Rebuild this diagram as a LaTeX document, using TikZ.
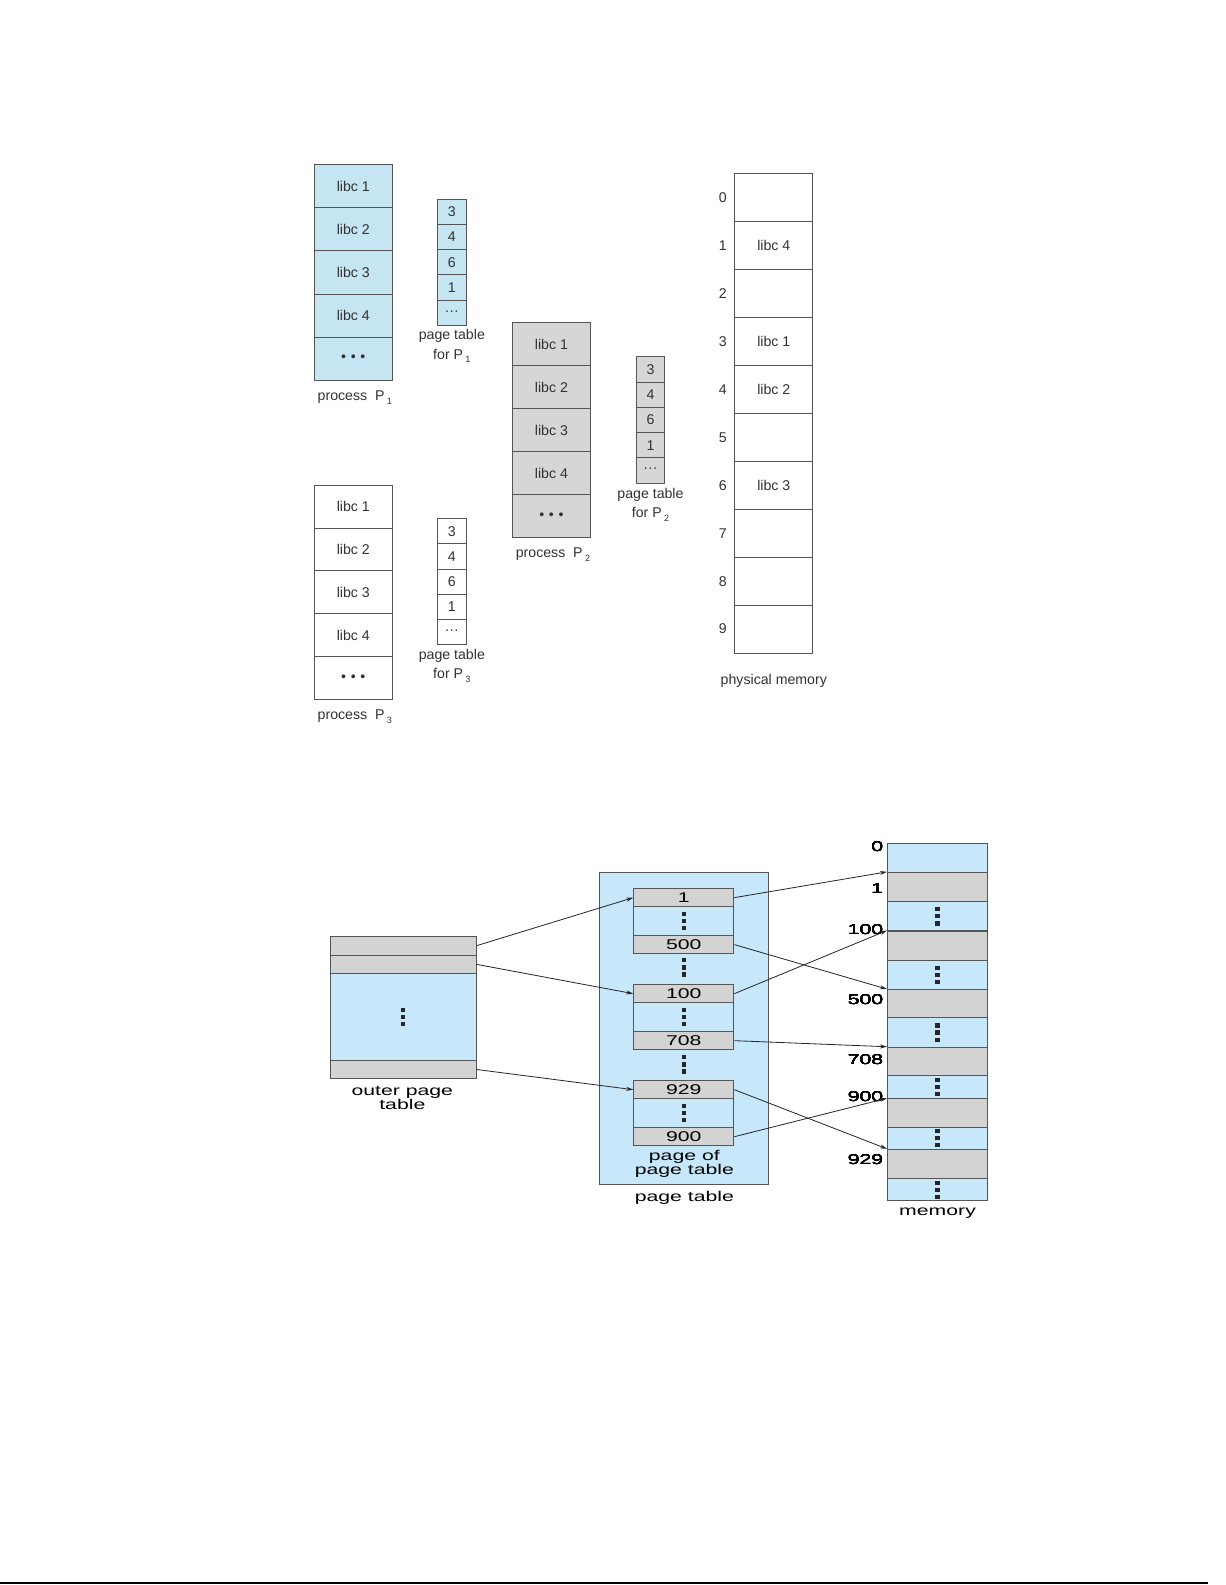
\documentclass[tikz,border=0pt]{standalone}
\usepackage{fontspec}
\setmainfont{Liberation Sans}
\newfontfamily\widefont[FakeStretch=1.5]{Liberation Sans}
\usetikzlibrary{positioning, arrows.meta}

\definecolor{libblue}{RGB}{197,229,243}
\definecolor{libgray}{RGB}{214,214,214}
\definecolor{ptblue}{RGB}{198,232,250}
\definecolor{ptgray}{RGB}{211,211,211}
\definecolor{edge}{RGB}{85,85,85}
\definecolor{txt}{RGB}{50,50,50}

\newcommand\topfont{\fontsize{14}{19}\selectfont}
\newcommand\botfont{\widefont\fontsize{14}{13}\selectfont}
\newcommand\subl[1]{\,\raisebox{-0.5ex}{\fontsize{9}{9}\selectfont #1}}
\newcommand\bigdots{{\fontsize{14}{14}\selectfont\textbullet\,\,\textbullet\,\,\textbullet}}
\newcommand\smalldots{\textperiodcentered\textperiodcentered\textperiodcentered}
\newcommand\vdotsat[1]{\foreach \dy in {-7,0,7} \fill[black!85] (#1) ++(-2.1,\dy-2.1) rectangle ++(4.2,4.2);}

\begin{document}
\begin{tikzpicture}[x=1pt, y=-1pt,
    cell/.style={draw=edge, line width=0.9pt, minimum width=77pt, minimum height=42.6pt,
                 inner sep=0pt, text=txt, font=\topfont},
    ptcell/.style={cell, minimum width=28pt, minimum height=25pt},
    memcell/.style={cell, fill=white, minimum height=47.4pt},
    caption/.style={inner sep=0pt, text=txt, font=\topfont, align=center},
    bcell/.style={draw=edge, line width=1pt, minimum width=99pt, inner sep=0pt, font=\botfont},
    bcap/.style={inner sep=0pt, font=\botfont, align=center},
    link/.style={-{Stealth[length=7pt, width=4pt]}, line width=0.8pt, black!85}]
  \useasboundingbox (0,0) rectangle (1212,1568);

  % process P1 and its page table
  \foreach \lbl [count=\i] in {libc 1, libc 2, libc 3, libc 4, \bigdots}
    \node[cell, fill=libblue] (pa\i) at (349.5, {163+42.6*(\i-0.5)}) {\lbl};
  \node[caption] (pacap) at (351, 393) {process\ \ P\subl{1}};
  \foreach \lbl [count=\i] in {3, 4, 6, 1, \smalldots}
    \node[ptcell, fill=libblue] (ta\i) at (447, {197+25*(\i-0.5)}) {\lbl};
  \node[caption] (tacap) at (447, 342.5) {page table\\for P\subl{1}};

  % process P2 and its page table
  \foreach \lbl [count=\i] in {libc 1, libc 2, libc 3, libc 4, \bigdots}
    \node[cell, fill=libgray] (pb\i) at (545.5, {319+42.6*(\i-0.5)}) {\lbl};
  \node[caption] (pbcap) at (547, 549) {process\ \ P\subl{2}};
  \foreach \lbl [count=\i] in {3, 4, 6, 1, \smalldots}
    \node[ptcell, fill=libgray] (tb\i) at (643.5, {353+25*(\i-0.5)}) {\lbl};
  \node[caption] (tbcap) at (643.5, 499) {page table\\for P\subl{2}};

  % process P3 and its page table
  \foreach \lbl [count=\i] in {libc 1, libc 2, libc 3, libc 4, \bigdots}
    \node[cell, fill=white] (pc\i) at (349.5, {480+42.4*(\i-0.5)}) {\lbl};
  \node[caption] (pccap) at (351, 709) {process\ \ P\subl{3}};
  \foreach \lbl [count=\i] in {3, 4, 6, 1, \smalldots}
    \node[ptcell, fill=white] (tc\i) at (447, {513+25*(\i-0.5)}) {\lbl};
  \node[caption] (tccap) at (447, 659) {page table\\for P\subl{3}};

  % physical memory
  \foreach \lbl [count=\i from 0] in {{}, libc 4, {}, libc 1, libc 2, {}, libc 3, {}, {}, {}} {
    \node[memcell] (f\i) at (765.5, {172+47.4*(\i+0.5)}) {\lbl};
    \node[caption] (fn\i) at (715, {172+47.4*(\i+0.5)}) {\i};
  }
  \node[caption] (fcap) at (765.5, 674) {physical memory};

  % outer page table
  \foreach \yy/\hh/\col [count=\i] in {926/19/ptgray, 945/18/ptgray, 963/86/ptblue, 1049/18/ptgray}
    \node[bcell, fill=\col, minimum width=144pt, minimum height=\hh pt] (o\i) at (399, {\yy+\hh/2}) {};
  \vdotsat{o3.center}
  \node[bcap] (ocap) at (398, 1086) {outer page\\table};

  % page table with its pages
  \node[draw=edge, line width=1pt, fill=ptblue, minimum width=167pt, minimum height=309pt,
        inner sep=0pt] (ptbox) at (676.5, 1017.5) {};
  \foreach \yy/\a/\b [count=\k] in {879/1/500, 974/100/708, 1069/929/900} {
    \node[bcell, fill=ptgray, minimum height=18pt] (bt\k) at (676.5, \yy+9) {\a};
    \node[bcell, fill=ptblue, minimum height=28.5pt] (bm\k) at (676.5, \yy+32.25) {};
    \node[bcell, fill=ptgray, minimum height=18pt] (bb\k) at (676.5, \yy+55.5) {\b};
    \vdotsat{bm\k.center}
  }
  \coordinate (gap1) at (676.5, 957);
  \coordinate (gap2) at (676.5, 1053);
  \vdotsat{gap1}
  \vdotsat{gap2}
  \node[bcap] (pgcap) at (677, 1151.5) {page of\\page table};
  \node[bcap] (ptcap) at (677, 1185) {page table};

  % memory
  \foreach \ya/\yb/\col [count=\i] in {834/863/ptblue, 863/892/ptgray, 892/921/ptblue,
      921/950/ptgray, 950/979/ptblue, 979/1007/ptgray, 1007/1036/ptblue, 1036/1064/ptgray,
      1064/1087/ptblue, 1087/1115/ptgray, 1115/1137/ptblue, 1137/1166/ptgray, 1166/1188/ptblue} {
    \pgfmathsetmacro\hh{\yb-\ya}
    \node[bcell, fill=\col, minimum height=\hh pt] (m\i) at (927.5, {(\ya+\yb)/2}) {};
  }
  \foreach \i in {3,5,...,13} \vdotsat{m\i.center}
  \foreach \lbl/\yy in {0/838, 1/879, 100/920, 500/989, 708/1048, 900/1085, 929/1147}
    \node[bcap, anchor=east] (ml\lbl) at (874, \yy) {\lbl};
  \node[bcap] (mcap) at (927.5, 1200) {memory};

  % references
  \draw[link] (o1.east) -- (bt1.west);
  \draw[link] (o2.east) -- (bt2.west);
  \draw[link] (o4.east) -- (bt3.west);
  \draw[link] (bt1.east) -- (m2.north west);
  \draw[link] (bb1.east) -- (m6.north west);
  \draw[link] (bt2.east) -- (m4.north west);
  \draw[link] (bb2.east) -- (m8.north west);
  \draw[link] (bt3.east) -- (m12.north west);
  \draw[link] (bb3.east) -- (m10.north west);

  % page rule
  \draw[line width=2pt] (0,1566) -- (1195,1566);
\end{tikzpicture}
\end{document}
